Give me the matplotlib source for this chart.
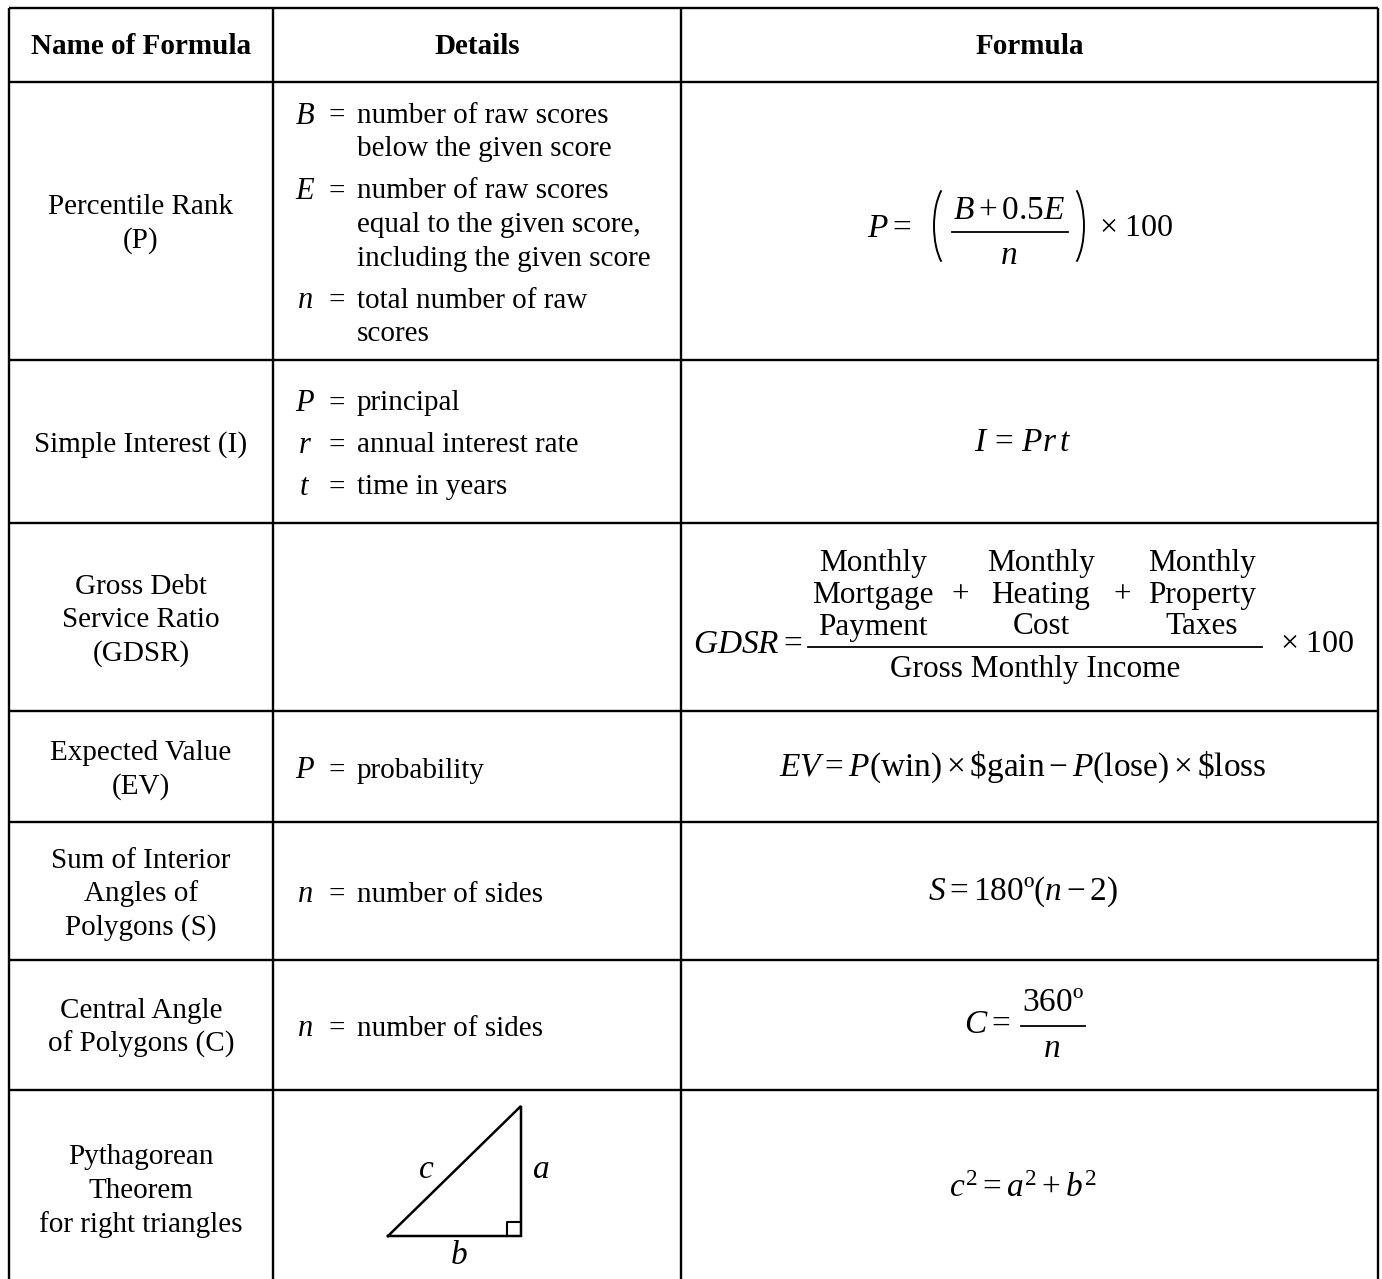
import numpy as np
import matplotlib
matplotlib.use("Agg")
import matplotlib.pyplot as plt
from matplotlib.patches import Arc

# --- fonts: Times-like serif for text and math ---
plt.rcParams['font.family'] = ['Liberation Serif', 'DejaVu Serif']
plt.rcParams['mathtext.fontset'] = 'custom'
plt.rcParams['mathtext.rm'] = 'Liberation Serif'
plt.rcParams['mathtext.it'] = 'Liberation Serif:italic'
plt.rcParams['mathtext.bf'] = 'Liberation Serif:bold'

# --- TABLE CONTENT ---
headers = ["Name of Formula", "Details", "Formula"]

names = [
    ["Percentile Rank", "(P)"],
    ["Simple Interest (I)"],
    ["Gross Debt", "Service Ratio", "(GDSR)"],
    ["Expected Value", "(EV)"],
    ["Sum of Interior", "Angles of", "Polygons (S)"],
    ["Central Angle", "of Polygons (C)"],
    ["Pythagorean", "Theorem", "for right triangles"],
]

details = [
    [("B", ["number of raw scores", "below the given score"]),
     ("E", ["number of raw scores", "equal to the given score,", "including the given score"]),
     ("n", ["total number of raw", "scores"])],
    [("P", ["principal"]), ("r", ["annual interest rate"]), ("t", ["time in years"])],
    [],
    [("P", ["probability"])],
    [("n", ["number of sides"])],
    [("n", ["number of sides"])],
    [],
]

# single-line formulas (None = drawn as a built-up fraction below)
formulas = [
    None,
    r"$I\,=\,Pr\,t$",
    None,
    r"$EV=P(\mathrm{win})\times\$\mathrm{gain}-P(\mathrm{lose})\times\$\mathrm{loss}$",
    r"$S=180\mathrm{º}(n-2)$",
    None,
    r"$c^{2}=a^{2}+b^{2}$",
]

# percentile rank pieces
pr_lhs, pr_num, pr_den, pr_rhs = r"$P=$", r"$B+0.5E$", r"$n$", r"$\times\ 100$"
# central angle pieces
ca_lhs, ca_num, ca_den = r"$C=$", r"$360\mathrm{º}$", r"$n$"

gdsr_terms = [["Monthly", "Mortgage", "Payment"],
              ["Monthly", "Heating", "Cost"],
              ["Monthly", "Property", "Taxes"]]
gdsr_denominator = "Gross Monthly Income"

triangle_labels = ["a", "b", "c"]

# --- LAYOUT (pixels) ---
W, H = 1382, 1279
col_x = [9, 273, 681, 1378]
row_y = [8, 82, 360, 523, 711, 822, 960, 1090]
TXT = 21
MATH = 24
LINE = 33.5
ITEM_GAP = 8.5
DY = 3  # text baseline nudge

fig = plt.figure(figsize=(W / 100, H / 100), dpi=100)
ax = fig.add_axes([0, 0, 1, 1])
ax.set_xlim(0, W)
ax.set_ylim(H, 0)
ax.axis('off')

lw = 1.7
for x in col_x:
    ax.plot([x, x], [row_y[0], H], color='black', lw=lw, solid_capstyle='butt')
for y in row_y:
    ax.plot([col_x[0], col_x[-1]], [y, y], color='black', lw=lw, solid_capstyle='butt')

# header
col_centers = [(col_x[i] + col_x[i + 1]) / 2 for i in range(3)]
for cx, h in zip(col_centers, headers):
    ax.text(cx, (row_y[0] + row_y[1]) / 2 + 2, h, fontsize=TXT, fontweight='bold',
            ha='center', va='center')

row_bottoms = row_y[2:] + [H]
for i, name in enumerate(names):
    top = row_y[i + 1]
    bot = row_bottoms[i]
    cy = (top + bot) / 2
    if i == 6:
        cy = 1188

    # name column
    n = len(name)
    for k, line in enumerate(name):
        ax.text(141, cy + DY + (k - (n - 1) / 2) * LINE, line, fontsize=TXT,
                ha='center', va='center')

    # details column
    items = details[i]
    if items:
        nlines = sum(len(t) for _, t in items)
        block = (nlines - 1) * LINE + (len(items) - 1) * ITEM_GAP
        y = cy - block / 2 + DY + 1
        for var, lines in items:
            ax.text(305, y, f"${var}$", fontsize=TXT + 1, ha='center', va='center')
            ax.text(337, y, "=", fontsize=TXT, ha='center', va='center')
            for line in lines:
                ax.text(357, y, line, fontsize=TXT, ha='left', va='center')
                y += LINE
            y += ITEM_GAP

    # formula column
    f = formulas[i]
    if f is not None:
        ax.text(1023, cy + 1, f, fontsize=MATH, ha='center', va='center')

# --- percentile rank: P = ( (B+0.5E)/n ) x 100 ---
ax.text(912, 229, pr_lhs, fontsize=MATH, ha='right', va='center')
ax.text(1009, 211, pr_num, fontsize=MATH, ha='center', va='center')
ax.plot([952, 1068], [232, 232], color='black', lw=1.3)
ax.text(1009, 256, pr_den, fontsize=MATH, ha='center', va='center')
ax.add_patch(Arc((953, 226), 38, 90, theta1=108, theta2=252, color='black', lw=1.4))
ax.add_patch(Arc((1065, 226), 38, 90, theta1=-72, theta2=72, color='black', lw=1.4))
ax.text(1099, 229, pr_rhs, fontsize=MATH - 1, ha='left', va='center')

# --- GDSR fraction ---
term_x = [873, 1041, 1202]
GD = 22.5
for tx, term in zip(term_x, gdsr_terms):
    for k, line in enumerate(term):
        ax.text(tx, 564 + k * 31.5, line, fontsize=GD, ha='center', va='center')
for px in [960, 1122]:
    ax.text(px, 595, "+", fontsize=GD, ha='center', va='center')
ax.plot([808, 1262], [647, 647], color='black', lw=1.3)
ax.text(1035, 670, gdsr_denominator, fontsize=GD, ha='center', va='center')
ax.text(802, 645, r"$GDSR=$", fontsize=MATH, ha='right', va='center')
ax.text(1317, 645, r"$\times\ 100$", fontsize=MATH - 1, ha='center', va='center')

# --- central angle: C = 360º / n ---
ax.text(1010, 1025, ca_lhs, fontsize=MATH, ha='right', va='center')
ax.text(1053, 1003, ca_num, fontsize=MATH, ha='center', va='center')
ax.plot([1021, 1085], [1026, 1026], color='black', lw=1.3)
ax.text(1052, 1049, ca_den, fontsize=MATH, ha='center', va='center')

# --- right triangle ---
tri_x = [388, 521, 521, 388]
tri_y = [1236, 1236, 1106, 1236]
ax.plot(tri_x, tri_y, color='black', lw=1.8, solid_joinstyle='miter')
sq = 14
ax.plot([521 - sq, 521 - sq, 521], [1236, 1236 - sq, 1236 - sq], color='black', lw=1.5)
ax.text(541, 1170, f"${triangle_labels[0]}$", fontsize=MATH, ha='center', va='center')
ax.text(459, 1256, f"${triangle_labels[1]}$", fontsize=MATH, ha='center', va='center')
ax.text(426, 1170, f"${triangle_labels[2]}$", fontsize=MATH, ha='center', va='center')

fig.savefig("out.png", dpi=100, facecolor='white')
